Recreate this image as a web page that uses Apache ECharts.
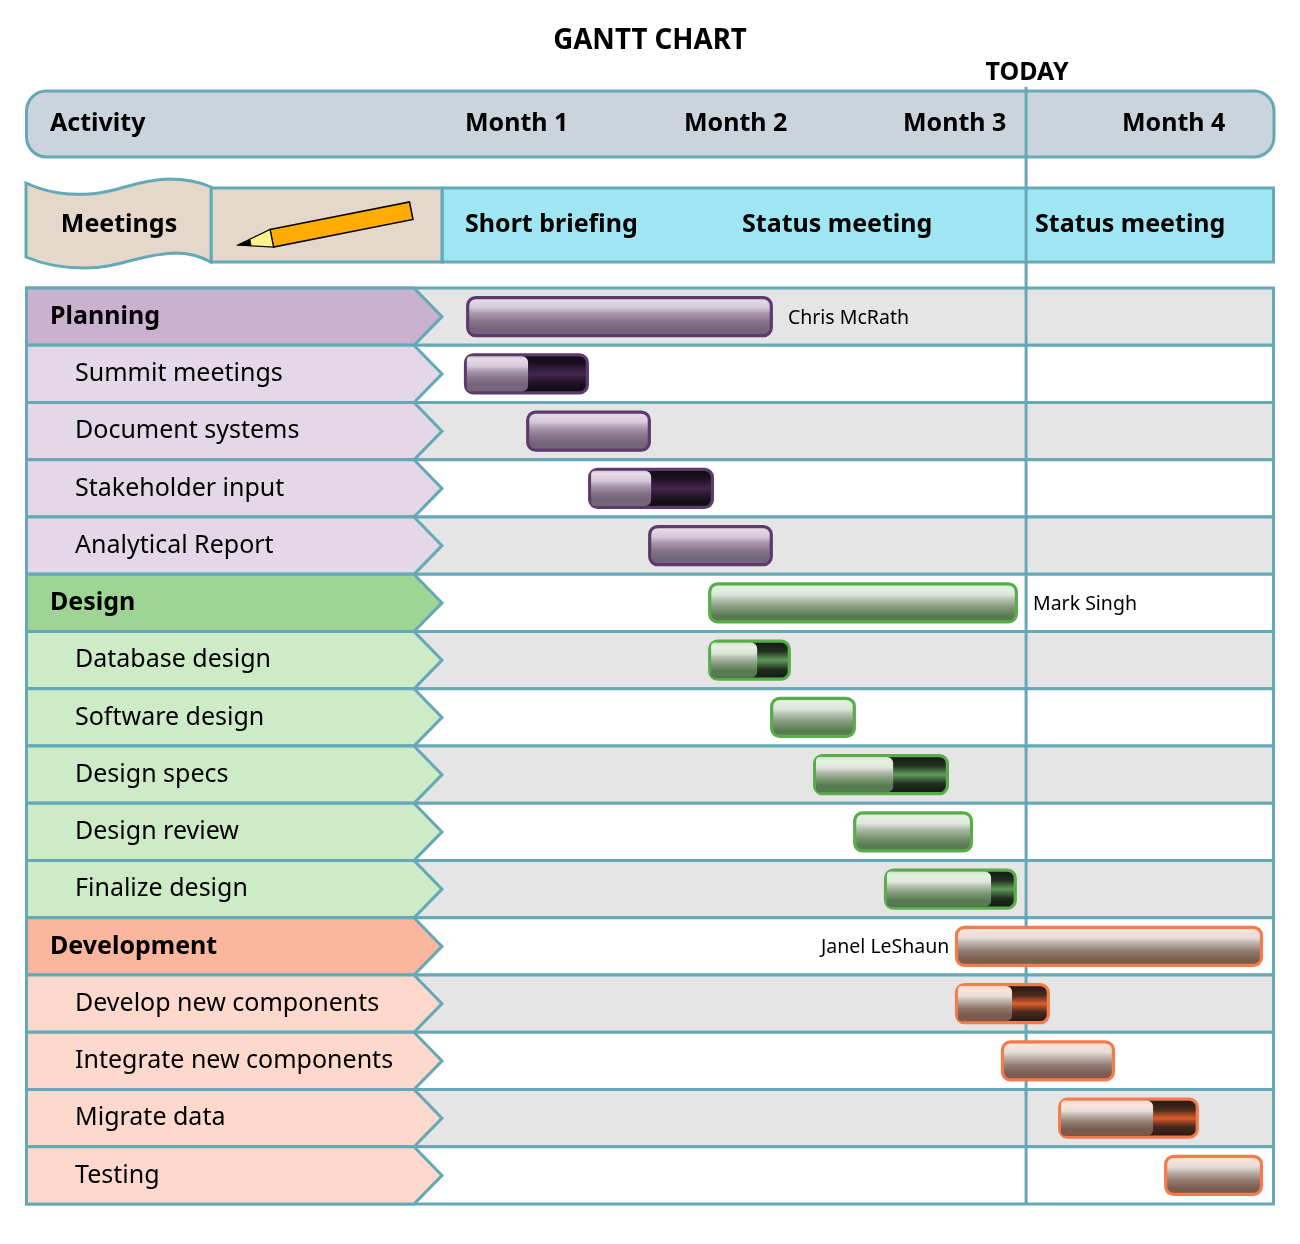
<!DOCTYPE html>
<html><head><meta charset="utf-8">
<style>html,body{margin:0;padding:0;background:#fff}#c{width:1300px;height:1244px}</style>
<script src="https://cdn.jsdelivr.net/npm/echarts@6/dist/echarts.min.js"></script>
</head><body><div id="c"></div>
<script>
var monthLabels = ['Month 1','Month 2','Month 3','Month 4'];
var todayMonth = 2.562;
var taskNames = ['Planning','Summit meetings','Document systems','Stakeholder input','Analytical Report','Design','Database design','Software design','Design specs','Design review','Finalize design','Development','Develop new components','Integrate new components','Migrate data','Testing'];
var taskGroups = [0,0,0,0,0,1,1,1,1,1,1,2,2,2,2,2];
var taskIsHeader = [1,0,0,0,0,1,0,0,0,0,0,1,0,0,0,0];
var taskStarts = [0.005,-0.005,0.279,0.562,0.836,1.110,1.110,1.393,1.589,1.772,1.913,2.237,2.237,2.447,2.708,3.192];
var taskEnds = [1.406,0.566,0.849,1.137,1.406,2.525,1.488,1.785,2.210,2.320,2.520,3.644,2.671,2.968,3.351,3.644];
var taskDone = [null,0.288,null,0.850,null,null,1.334,null,1.955,null,2.402,null,2.498,null,3.142,null];
var owners = ['Chris McRath','','','','','Mark Singh','','','','','','Janel LeShaun','','','',''];
var meetingNames = ['Short briefing','Status meeting','Status meeting'];
var meetingMonths = [0,1.265,2.603];

var FONT = '"Noto Sans", sans-serif';
var TEAL = '#65a8b6';
var headFill = ['#c9b1cf','#9fd594','#fab79e'];
var taskFill = ['#e4d8e8','#ccebc6','#fcd9cc'];
var barStroke = ['#5d3a6c','#58ac4a','#f47b4a'];
function grad(stops){return {type:'linear',x:0,y:0,x2:0,y2:1,colorStops:stops.map(function(s){return {offset:s[0],color:s[1]};})};}
var gloss = [
 grad([[0,'#d5c7d9'],[0.08,'#e6dbe9'],[0.28,'#d6c9da'],[0.42,'#a999ae'],[0.62,'#87758b'],[0.8,'#75657a'],[1,'#75657a']]),
 grad([[0,'#cfe6c9'],[0.12,'#e2f2de'],[0.3,'#dfe5dc'],[0.42,'#b6c0b1'],[0.62,'#7f9878'],[0.82,'#587b51'],[1,'#567a4f']]),
 grad([[0,'#f3d6c9'],[0.12,'#fce3d9'],[0.3,'#e4dcd8'],[0.42,'#bfb2ac'],[0.62,'#917a70'],[0.82,'#7b5c4e'],[1,'#7a5a4c']])
];
var dark = [
 grad([[0,'#0e0a0f'],[0.25,'#1c1022'],[0.5,'#45274f'],[0.75,'#1c1022'],[1,'#0b080c']]),
 grad([[0,'#111411'],[0.28,'#222e20'],[0.5,'#5f9c58'],[0.72,'#222e20'],[1,'#101310']]),
 grad([[0,'#1b1512'],[0.3,'#4a2a1e'],[0.5,'#dc5e2a'],[0.7,'#4a2a1e'],[1,'#1a1411']])
];
function txt(t,x,y,size,bold,align){return {type:'text',style:{text:t,x:x,y:y,fontSize:size,fontWeight:bold?'bold':'normal',fontFamily:FONT,fill:'#000',textAlign:align||'left',textVerticalAlign:'middle'}};}

function renderDecor(){
  var ch=[];
  ch.push({type:'rect',shape:{x:26.5,y:91,width:1247.5,height:66,r:20},style:{fill:'#cbd3dd',stroke:TEAL,lineWidth:3}});
  ch.push(txt('Activity',50,124,25,true));
  ch.push({type:'rect',shape:{x:442,y:188,width:831.5,height:74},style:{fill:'#9fe6f2',stroke:TEAL,lineWidth:3}});
  ch.push({type:'rect',shape:{x:211,y:188,width:231,height:74},style:{fill:'#e3d8ca',stroke:TEAL,lineWidth:3}});
  ch.push({type:'path',shape:{pathData:'M26,183 C50,194 70,195 90,194 C120,192 135,180 168,179 C185,179 200,182 211,187 L211,262 C200,256 188,253 175,253 C140,254 120,268 85,268 C60,268 42,264 26,257 Z'},style:{fill:'#e3d8ca',stroke:TEAL,lineWidth:3}});
  ch.push(txt('Meetings',119,225,25,true,'center'));
  ch.push({type:'polygon',shape:{points:[[270,229.5],[409.5,202],[413,219.5],[273.5,247]]},style:{fill:'#ffab00',stroke:'#000',lineWidth:1.5}});
  ch.push({type:'polygon',shape:{points:[[270,229.5],[273.5,247],[238,245]]},style:{fill:'#fff18f',stroke:'#000',lineWidth:1.2}});
  ch.push({type:'polygon',shape:{points:[[238,245],[250,240],[251,245.7]]},style:{fill:'#000',stroke:'#000',lineWidth:1}});
  return {type:'group',children:ch};
}
function renderRow(params,api){
  var i=api.value(0), g=taskGroups[i];
  var rh=api.size([0,1])[1];
  var yc=api.coord([0,i])[1], top=yc-rh/2, bot=yc+rh/2;
  var tip=442, neck=414, l=26.5, r=1273.5;
  return {type:'group',children:[
    {type:'rect',shape:{x:l,y:top,width:r-l,height:rh},style:{fill:i%2===0?'#e5e5e5':'#ffffff',stroke:TEAL,lineWidth:3}},
    {type:'polygon',shape:{points:[[l,top],[neck,top],[tip,yc],[neck,bot],[l,bot]]},style:{fill:taskIsHeader[i]?headFill[g]:taskFill[g],stroke:TEAL,lineWidth:3}}
  ]};
}
function renderToday(params,api){
  var x=api.coord([todayMonth,0])[0], b=api.coord([todayMonth,15])[1]+api.size([0,1])[1]/2;
  return {type:'group',children:[
    {type:'line',shape:{x1:x,y1:87,x2:x,y2:b},style:{stroke:TEAL,lineWidth:3}},
    txt('TODAY',x+1,73,25,true,'center')
  ]};
}
function renderMeeting(params,api){
  var i=params.dataIndex;
  var x=api.coord([meetingMonths[i],0])[0];
  return txt(meetingNames[i],x,225,25,true);
}
function renderBar(params,api){
  var i=params.dataIndex, g=taskGroups[i];
  var h=api.size([0,1])[1]*0.72;
  var yc=api.coord([0,i])[1];
  var x0=api.coord([taskStarts[i],i])[0], x1=api.coord([taskEnds[i],i])[0];
  var ch=[];
  var lw=3.2, xa=x0+lw/2, w=x1-x0-lw, ya=yc-h/2+lw/2, hh=h-lw;
  var done=taskDone[i];
  ch.push({type:'rect',shape:{x:xa,y:ya,width:w,height:hh,r:8},style:{fill:done==null?gloss[g]:dark[g],stroke:barStroke[g],lineWidth:lw}});
  if(done!=null){
    var xd=api.coord([done,i])[0];
    ch.push({type:'rect',shape:{x:x0+3,y:ya+1.5,width:xd-x0-3,height:hh-3,r:[4,6,6,4]},style:{fill:gloss[g]}});
  }
  if(owners[i]){
    if(g===2) ch.push(txt(owners[i],x0-5.5,yc+1.5,19.5,false,'right'));
    else ch.push(txt(owners[i],x1+15,yc+1.5,19.5,false));
  }
  return {type:'group',children:ch};
}
var chart=echarts.init(document.getElementById('c'),null,{renderer:'canvas'});
chart.setOption({
  animation:false,
  backgroundColor:'#ffffff',
  title:{text:'GANTT CHART',left:'center',top:22,textStyle:{fontFamily:FONT,fontWeight:'bold',fontSize:27.7,color:'#000'}},
  grid:{left:465,right:27,top:288,height:916,containLabel:false,outerBoundsMode:'none'},
  xAxis:{type:'value',position:'top',min:0,max:808/219,interval:1,z:10,
    axisLine:{show:false},axisTick:{show:false},splitLine:{show:false},
    axisLabel:{show:true,margin:164,align:'left',verticalAlign:'middle',showMaxLabel:false,hideOverlap:false,
      fontFamily:FONT,fontWeight:'bold',fontSize:25,color:'#000',
      formatter:function(v){return monthLabels[v]||'';}}},
  yAxis:{type:'category',inverse:true,data:taskNames,z:10,
    axisLine:{show:false},axisTick:{show:false},splitLine:{show:false},
    axisLabel:{show:true,interval:0,margin:415,align:'left',hideOverlap:false,
      formatter:function(v,i){return taskIsHeader[i]?'{h|'+v+'}':'{t|'+v+'}';},
      rich:{h:{fontFamily:FONT,fontWeight:'bold',fontSize:25,color:'#000'},
            t:{fontFamily:FONT,fontSize:25,color:'#000',padding:[0,0,0,25]}}}},
  series:[
    {type:'custom',name:'frame',z:1,silent:true,coordinateSystem:'none',data:[0],renderItem:renderDecor},
    {type:'custom',name:'rows',z:2,silent:true,clip:false,data:taskNames.map(function(n,i){return [i];}),encode:{y:0},renderItem:renderRow},
    {type:'custom',name:'today',z:3,silent:true,clip:false,data:[[todayMonth,0]],encode:{x:0,y:1},renderItem:renderToday},
    {type:'custom',name:'meetings',z:4,silent:true,clip:false,data:meetingMonths.map(function(m){return [m,0];}),encode:{x:0,y:1},renderItem:renderMeeting},
    {type:'custom',name:'tasks',z:5,silent:true,clip:false,data:taskStarts.map(function(s,i){return [s,i,taskEnds[i]];}),encode:{x:[0,2],y:1},renderItem:renderBar}
  ]
});
</script></body></html>
